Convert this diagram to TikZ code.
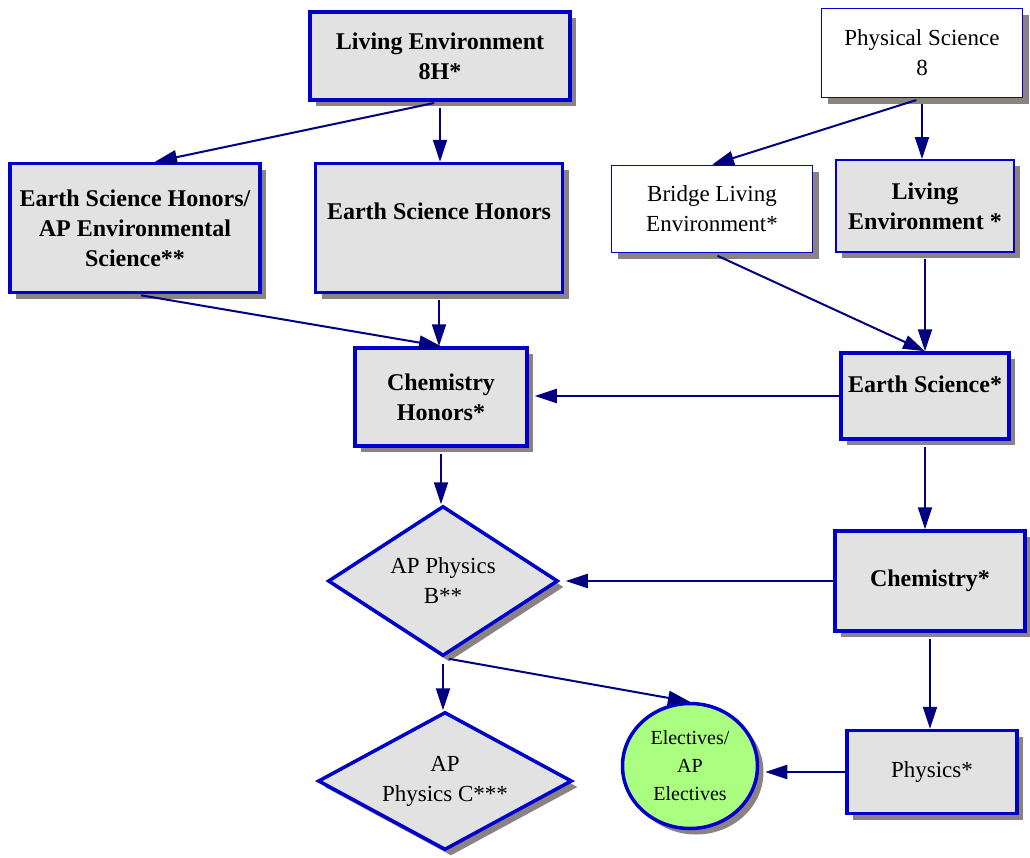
\documentclass[tikz,border=0pt]{standalone}
\usepackage{fontspec}
\setmainfont{Liberation Serif}
\usetikzlibrary{arrows.meta,shapes.geometric,shadows}
\definecolor{boxblue}{RGB}{0,0,204}
\definecolor{navy}{RGB}{0,0,128}
\definecolor{shadowgray}{RGB}{140,130,130}
\definecolor{hatchgray}{RGB}{226,226,226}
\definecolor{electgreen}{RGB}{170,255,128}

\begin{document}
\begin{tikzpicture}[x=0.5pt,y=-0.5pt,>={Triangle[length=11pt,width=7pt]}]

\tikzset{mybox/.style={rectangle,draw=boxblue,line width=1.75pt,fill=hatchgray,align=center,inner sep=2pt,font=\fontsize{12}{15}\selectfont\bfseries,drop shadow={shadow xshift=3pt,shadow yshift=-3pt,fill=shadowgray,opacity=1}},}
\tikzset{myplain/.style={rectangle,draw=boxblue,line width=0.75pt,fill=white,align=center,inner sep=2pt,font=\fontsize{11.5}{15}\selectfont,drop shadow={shadow xshift=3pt,shadow yshift=-3pt,fill=shadowgray,opacity=1}},}
\tikzset{mydiamond/.style={diamond,draw=boxblue,line width=1.75pt,fill=hatchgray,align=center,inner sep=0pt,font=\fontsize{11.5}{15}\selectfont,drop shadow={shadow xshift=3pt,shadow yshift=-3pt,fill=shadowgray,opacity=1}},}
\tikzset{mycircle/.style={ellipse,draw=boxblue,line width=1.75pt,fill=electgreen,align=center,inner sep=0pt,font=\fontsize{10}{14}\selectfont,drop shadow={shadow xshift=3pt,shadow yshift=-3pt,fill=shadowgray,opacity=1}},}

  \useasboundingbox (0,0) rectangle (1030,858);

  \draw (440,56) node[mybox, minimum width=130pt, minimum height=44pt](le8h) {Living Environment\\8H*};
  \draw (922,53) node[myplain, minimum width=100.5pt, minimum height=44.5pt](ps8) {Physical Science\\8};
  \draw (135,228) node[mybox, minimum width=125pt, minimum height=64.5pt](esap) {Earth Science Honors/\\AP Environmental\\Science**};
  \draw (439,228) node[mybox, minimum width=123.5pt, minimum height=64.5pt, text height=9pt, text depth=17.5pt](esh) {Earth Science Honors};
  \draw (712,209) node[myplain, minimum width=100.5pt, minimum height=43.5pt](bridge) {Bridge Living\\Environment*};
  \draw (925,206) node[mybox, line width=1pt, minimum width=89pt, minimum height=46pt](lestar) {Living\\Environment *};
  \draw (441,397) node[mybox, minimum width=86pt, minimum height=49pt](chemh) {Chemistry\\Honors*};
  \draw (925,396) node[mybox, minimum width=84pt, minimum height=43pt, text height=9pt, text depth=13pt](esstar) {Earth Science*};
  \draw (443,581) node[mydiamond, aspect=1.53, minimum width=115pt, minimum height=75pt](apb) {AP Physics\\B**};
  \draw (930,581) node[mybox, minimum width=95pt, minimum height=50pt](chemstar) {Chemistry*};
  \draw (445,781) node[mydiamond, aspect=1.84, minimum width=127pt, minimum height=69pt](apc) {AP\\Physics C***};
  \draw (690,766) node[mycircle, minimum width=67.5pt, minimum height=62.5pt](elect) {Electives/\\AP\\Electives};
  \draw (932,772) node[mybox, font=\fontsize{11.5}{15}\selectfont, minimum width=85pt, minimum height=41.5pt](physstar) {Physics*};

  %edges for the 8th grade courses
    \draw[->, navy, line width=1pt, shorten <=3pt] (le8h.south) -- (le8h.south |- esh.north);
    \draw[->, navy, line width=1pt, shorten <=3pt] (le8h.south) -- ([xshift=10pt]esap.north);
    \draw[->, navy, line width=1pt, shorten <=3pt] (ps8.south) -- (ps8.south |- lestar.north);
    \draw[->, navy, line width=1pt, shorten <=3pt] (ps8.south) -- (bridge.north);

  %edges for earth science
    \draw[->, navy, line width=1pt, shorten <=3pt] (bridge.south) -- (esstar.north);
    \draw[->, navy, line width=1pt, shorten <=3pt] (lestar.south) -- (esstar.north);
    \draw[->, navy, line width=1pt, shorten <=3pt] (esap.south) -- (chemh.north);
    \draw[->, navy, line width=1pt, shorten <=3pt] (esh.south) -- (esh.south |- chemh.north);

  %edges for chemistry
    \draw[->, navy, line width=1pt, shorten >=3pt] (esstar.west) -- (esstar.west -| chemh.east);
    \draw[->, navy, line width=1pt, shorten <=3pt] (esstar.south) -- (esstar.south |- chemstar.north);
    \draw[->, navy, line width=1pt, shorten <=3pt] (chemh.south) -- (chemh.south |- apb.north);
    \draw[->, navy, line width=1pt, shorten >=3pt] (chemstar.west) -- (chemstar.west -| apb.east);
    \draw[->, navy, line width=1pt, shorten <=3pt] (chemstar.south) -- (chemstar.south |- physstar.north);

  %edges for physics
    \draw[->, navy, line width=1pt, shorten <=3pt] (apb.south) -- (apb.south |- apc.north);
    \draw[->, navy, line width=1pt, shorten <=3pt] (apb.south) -- (elect.north);
    \draw[->, navy, line width=1pt, shorten >=3pt] (physstar.west) -- (physstar.west -| elect.east);

\end{tikzpicture}
\end{document}
